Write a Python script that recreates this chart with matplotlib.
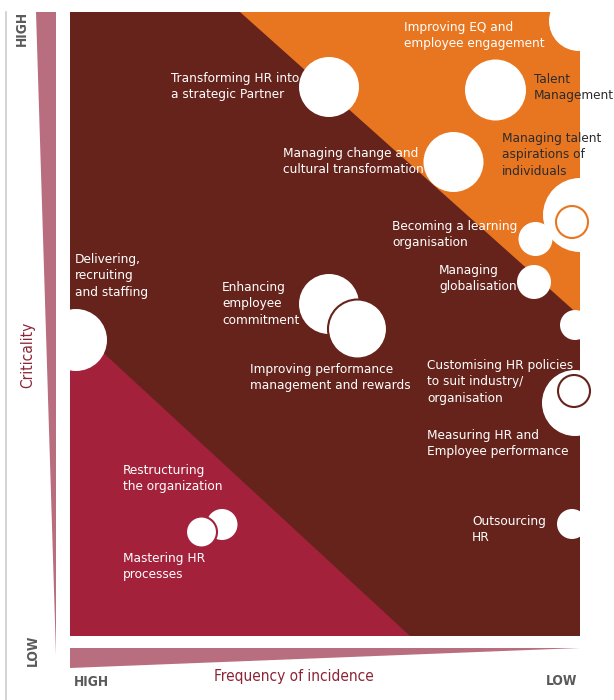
import matplotlib
matplotlib.use("Agg")
import matplotlib.pyplot as plt
from matplotlib.patches import Circle, Polygon
from matplotlib import font_manager
from matplotlib.font_manager import FontProperties
from matplotlib.textpath import TextPath

BROWN = "#66231b"
ORANGE = "#e87620"
CRIMSON = "#a3213a"
WEDGE = "#b96e7f"
GREY = "#5a5a5a"
AXRED = "#8b2535"

# bubble positions (frequency -> right is low, criticality -> up is high), radius
bubble_x = [509, 259, 425.5, 383.5, 510, 465.5, 464, 505, 259, 287.5, 6, 505, 502, 152, 131.5]
bubble_y = [615, 549, 546, 474, 421, 397, 354, 311, 332, 307, 296, 233, 112, 111.5, 104]
bubble_r = [30, 30, 30.5, 30, 37, 17, 17, 15, 30, 29.5, 31, 33, 15, 15.5, 15.5]
bubble_edge = [None, None, None, None, None, None, None, None, None, BROWN, None, None, None, None, CRIMSON]

ring_x = [502, 504]
ring_y = [414, 245]
ring_r = [16, 16]
ring_col = [ORANGE, BROWN]

labels = [
    "Improving EQ and\nemployee engagement",
    "Transforming HR into\na strategic Partner",
    "Talent\nManagement",
    "Managing talent\naspirations of\nindividuals",
    "Managing change and\ncultural transformation",
    "Becoming a learning\norganisation",
    "Managing\nglobalisation",
    "Delivering,\nrecruiting\nand staffing",
    "Enhancing\nemployee\ncommitment",
    "Improving performance\nmanagement and rewards",
    "Customising HR policies\nto suit industry/\norganisation",
    "Measuring HR and\nEmployee performance",
    "Restructuring\nthe organization",
    "Mastering HR\nprocesses",
    "Outsourcing\nHR",
]
label_x = [334, 101, 464, 432, 213, 322, 369, 5, 152, 180, 357, 357, 53, 53, 402]
label_y = [615, 564, 563, 504, 489, 416, 372, 383, 355, 273, 277, 207, 172, 84, 121]
label_dark = [False, False, True, True, False, False, False, False, False, False, False, False, False, False, False]


def pick_font(bold=False):
    # look for a condensed / narrow face, otherwise plain Roboto
    for f in font_manager.fontManager.ttflist:
        cond = ("Narrow" in f.name or "Condensed" in f.name
                or f.stretch in ("condensed", "semi-condensed", "extra-condensed"))
        is_bold = f.weight in ("bold", 700) or (isinstance(f.weight, int) and f.weight >= 700)
        if cond and f.style == "normal" and is_bold == bold:
            return FontProperties(fname=f.fname)
    return FontProperties(family=["Roboto", "DejaVu Sans"], weight="bold" if bold else "normal")


fp = pick_font()
fpb = pick_font(bold=True)

# label font: close to the reference width ("employee engagement" ~134 px), a bit taller
w = TextPath((0, 0), "employee engagement", size=11.5, prop=fp).get_extents().width * 100 / 72
FS = min(11.5, 11.5 * 140 / w)
EM = FS * 100 / 72
LS = 17 / (0.94 * EM)

wb = TextPath((0, 0), "HIGH", size=12, prop=fpb).get_extents().width * 100 / 72
FSB = min(12, 12 * 33 / wb)
wa = TextPath((0, 0), "Frequency of incidence", size=13, prop=fp).get_extents().width * 100 / 72
FSA = min(13, 13 * 158 / wa)

fig = plt.figure(figsize=(6.14, 7.0), dpi=100)
ax = fig.add_axes([70 / 614, 64 / 700, 510 / 614, 624 / 700])
ax.set_xlim(0, 510)
ax.set_ylim(0, 624)
ax.set_aspect("equal")
ax.axis("off")

ax.add_patch(Polygon([[0, 0], [510, 0], [510, 624], [0, 624]], closed=True, color=BROWN, lw=0))
ax.add_patch(Polygon([[170, 624], [510, 624], [510, 320]], closed=True, color=ORANGE, lw=0))
ax.add_patch(Polygon([[0, 314], [0, 0], [340, 0]], closed=True, color=CRIMSON, lw=0))

for x, y, r, ec in zip(bubble_x, bubble_y, bubble_r, bubble_edge):
    ax.add_patch(Circle((x, y), r, facecolor="white",
                        edgecolor=ec if ec else "white", lw=1.5 if ec else 0, clip_on=False, zorder=3))
for x, y, r in zip(ring_x, ring_y, ring_r):
    ax.add_patch(Circle((x, y), r, facecolor="white", lw=0, clip_on=False, zorder=4))

# white areas outside the square hide the parts of bubbles that stick out
for patch in [[[-80, -80], [0, -80], [0, 720], [-80, 720]],
              [[510, -80], [600, -80], [600, 720], [510, 720]],
              [[-80, 624], [600, 624], [600, 720], [-80, 720]]]:
    ax.add_patch(Polygon(patch, closed=True, color="white", lw=0, clip_on=False, zorder=4.5))
for x, y, r, c in zip(ring_x, ring_y, ring_r, ring_col):
    ax.add_patch(Circle((x, y), r, facecolor="none", edgecolor=c, lw=1.5, clip_on=False, zorder=5))

for t, x, y, dark in zip(labels, label_x, label_y, label_dark):
    ax.text(x, y, t, ha="left", va="top", fontproperties=fp, fontsize=FS,
            color="#2b2b2b" if dark else "white", linespacing=LS, zorder=6)

# axis decorations
fig.add_artist(plt.Line2D([6 / 614, 6 / 614], [0, 688 / 700], color="#cccccc", lw=1.2))
fig.add_artist(Polygon([[36 / 614, 688 / 700], [56 / 614, 688 / 700], [56 / 614, 45 / 700]],
                       closed=True, color=WEDGE, lw=0, transform=fig.transFigure))
fig.add_artist(Polygon([[70 / 614, 52 / 700], [70 / 614, 32 / 700], [580 / 614, 52 / 700]],
                       closed=True, color=WEDGE, lw=0, transform=fig.transFigure))

fig.text(22 / 614, 672 / 700, "HIGH", rotation=90, ha="center", va="center",
         fontproperties=fpb, fontsize=FSB, color=GREY)
fig.text(33 / 614, 50 / 700, "LOW", rotation=90, ha="center", va="center",
         fontproperties=fpb, fontsize=FSB, color=GREY)
fig.text(28 / 614, 345 / 700, "Criticality", rotation=90, ha="center", va="center",
         fontproperties=fp, fontsize=FSA, color=AXRED)
fig.text(294 / 614, 23 / 700, "Frequency of incidence", ha="center", va="center",
         fontproperties=fp, fontsize=FSA, color=AXRED)
fig.text(91 / 614, 18 / 700, "HIGH", ha="center", va="center",
         fontproperties=fpb, fontsize=FSB, color=GREY)
fig.text(562 / 614, 19 / 700, "LOW", ha="center", va="center",
         fontproperties=fpb, fontsize=FSB, color=GREY)

fig.savefig("out.png", dpi=100)
